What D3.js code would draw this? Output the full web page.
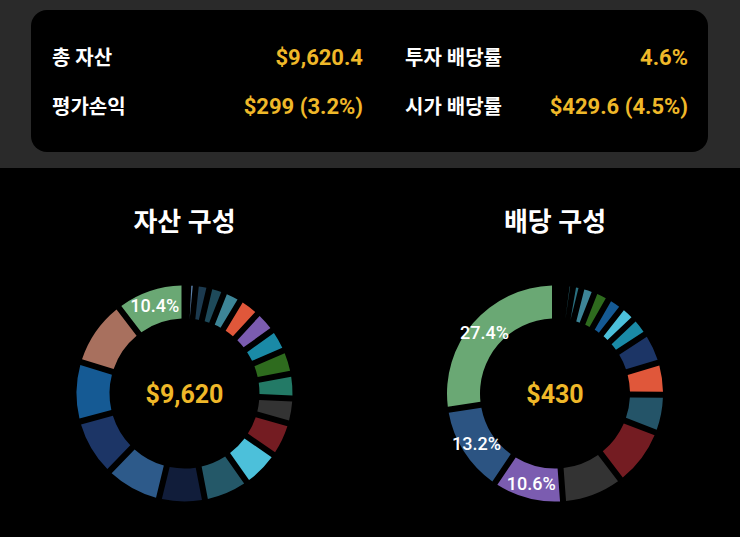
<!DOCTYPE html>
<html>
<head>
<meta charset="utf-8">
<script src="https://cdn.jsdelivr.net/npm/d3@7"></script>
<style>
  html, body { margin: 0; padding: 0; background: #000; }
  svg { display: block; }
  text { font-family: Roboto, "Noto Sans CJK KR", sans-serif; }
</style>
</head>
<body>
<svg id="chart" width="740" height="537"></svg>
<script>
// ---- summary card ----
const summaryLabels = ["총 자산", "평가손익", "투자 배당률", "시가 배당률"];
const summaryValues = ["$9,620.4", "$299 (3.2%)", "4.6%", "$429.6 (4.5%)"];

// ---- donut titles / totals ----
const chartTitles = ["자산 구성", "배당 구성"];
const chartTotals = [9620.4, 429.6];

// ---- asset composition (clockwise from 12 o'clock) ----
const assetValues = [53.4, 106.9, 195.1, 219.1, 253.9, 307.3, 315.3, 326.0, 347.4, 352.7,
                     358.1, 494.4, 542.5, 646.7, 657.4, 809.7, 827.7, 851.8, 955.4, 999.6];
const assetColors = ["#3a5f86", "#5a7fa8", "#1c3a4f", "#1e4a5a", "#3d8597", "#e0573a",
                     "#7b5cb0", "#1a8aa6", "#2e6b1e", "#237a66", "#333333", "#741c22",
                     "#4cc0da", "#245868", "#111d3a", "#2d5a8a", "#1c3566", "#155a94",
                     "#a8705e", "#6aa874"];

// ---- dividend composition (clockwise from 12 o'clock) ----
const dividendValues = [3.6, 3.8, 4.1, 5.4, 8.7, 9.8, 10.0, 10.3, 11.9, 20.0,
                        20.6, 24.5, 37.6, 39.4, 45.5, 56.7, 117.7];
const dividendColors = ["#2a6070", "#3a7080", "#2a6a78", "#2a7080", "#3d8597", "#2e6b1e",
                        "#155a94", "#4cc0da", "#1a8aa6", "#1c3566", "#e0573a", "#245468",
                        "#741c22", "#333333", "#7b5cb0", "#2c5482", "#6aa874"];

const svg = d3.select("#chart");
const W = 740, H = 537;
const yellow = "#efb829";

// backgrounds
svg.append("rect").attr("x", 0).attr("y", 0).attr("width", W).attr("height", H).attr("fill", "#000");
svg.append("rect").attr("x", 0).attr("y", 0).attr("width", W).attr("height", 168).attr("fill", "#2a2a2a");
svg.append("rect").attr("x", 31).attr("y", 10).attr("width", 677).attr("height", 142)
   .attr("rx", 16).attr("ry", 16).attr("fill", "#000");

// summary text
const labelX = [52, 52, 405, 405];
const valueX = [363, 363, 688, 688];
const rowY = [64.5, 114, 64.5, 114];
summaryLabels.forEach((t, i) => {
  svg.append("text").attr("x", labelX[i]).attr("y", rowY[i])
    .attr("fill", "#fff").attr("font-size", 20).attr("font-weight", 700)
    .text(t);
  svg.append("text").attr("x", valueX[i]).attr("y", rowY[i])
    .attr("fill", yellow).attr("font-size", 22).attr("font-weight", 700)
    .attr("text-anchor", "end")
    .text(summaryValues[i]);
});

// donuts
const centers = [[184.5, 393.5], [555, 393.5]];
const r0 = 75, r1 = 108;
const arc = d3.arc().innerRadius(r0).outerRadius(r1).padRadius(100).padAngle(0.06);
const labelArc = d3.arc().innerRadius(93).outerRadius(93);
const pie = d3.pie().sort(null).value(d => d.v).startAngle(0).endAngle(2 * Math.PI);

function drawDonut(idx, values, colors) {
  const [cx, cy] = centers[idx];
  const total = d3.sum(values);
  const data = values.map((v, i) => ({ v, c: colors[i] }));
  const g = svg.append("g").attr("transform", `translate(${cx},${cy})`);

  svg.append("text").attr("x", cx).attr("y", 231)
    .attr("text-anchor", "middle").attr("fill", "#fff")
    .attr("font-size", 26).attr("font-weight", 700)
    .text(chartTitles[idx]);

  const arcs = pie(data);
  g.selectAll("path").data(arcs).join("path")
    .attr("d", arc).attr("fill", d => d.data.c);

  g.selectAll("text.pct").data(arcs.filter(d => d.data.v / total >= 0.1)).join("text")
    .attr("class", "pct")
    .attr("transform", d => `translate(${labelArc.centroid(d)})`)
    .attr("text-anchor", "middle").attr("dy", "0.35em")
    .attr("fill", "#fff").attr("font-size", 18).attr("font-weight", 500)
    .text(d => (d.data.v / total * 100).toFixed(1) + "%");

  g.append("text").attr("x", 0).attr("y", 0).attr("dy", "0.36em")
    .attr("text-anchor", "middle").attr("fill", yellow)
    .attr("font-size", 25).attr("font-weight", 700)
    .text("$" + d3.format(",.0f")(chartTotals[idx]));
}

drawDonut(0, assetValues, assetColors);
drawDonut(1, dividendValues, dividendColors);
</script>
</body>
</html>
